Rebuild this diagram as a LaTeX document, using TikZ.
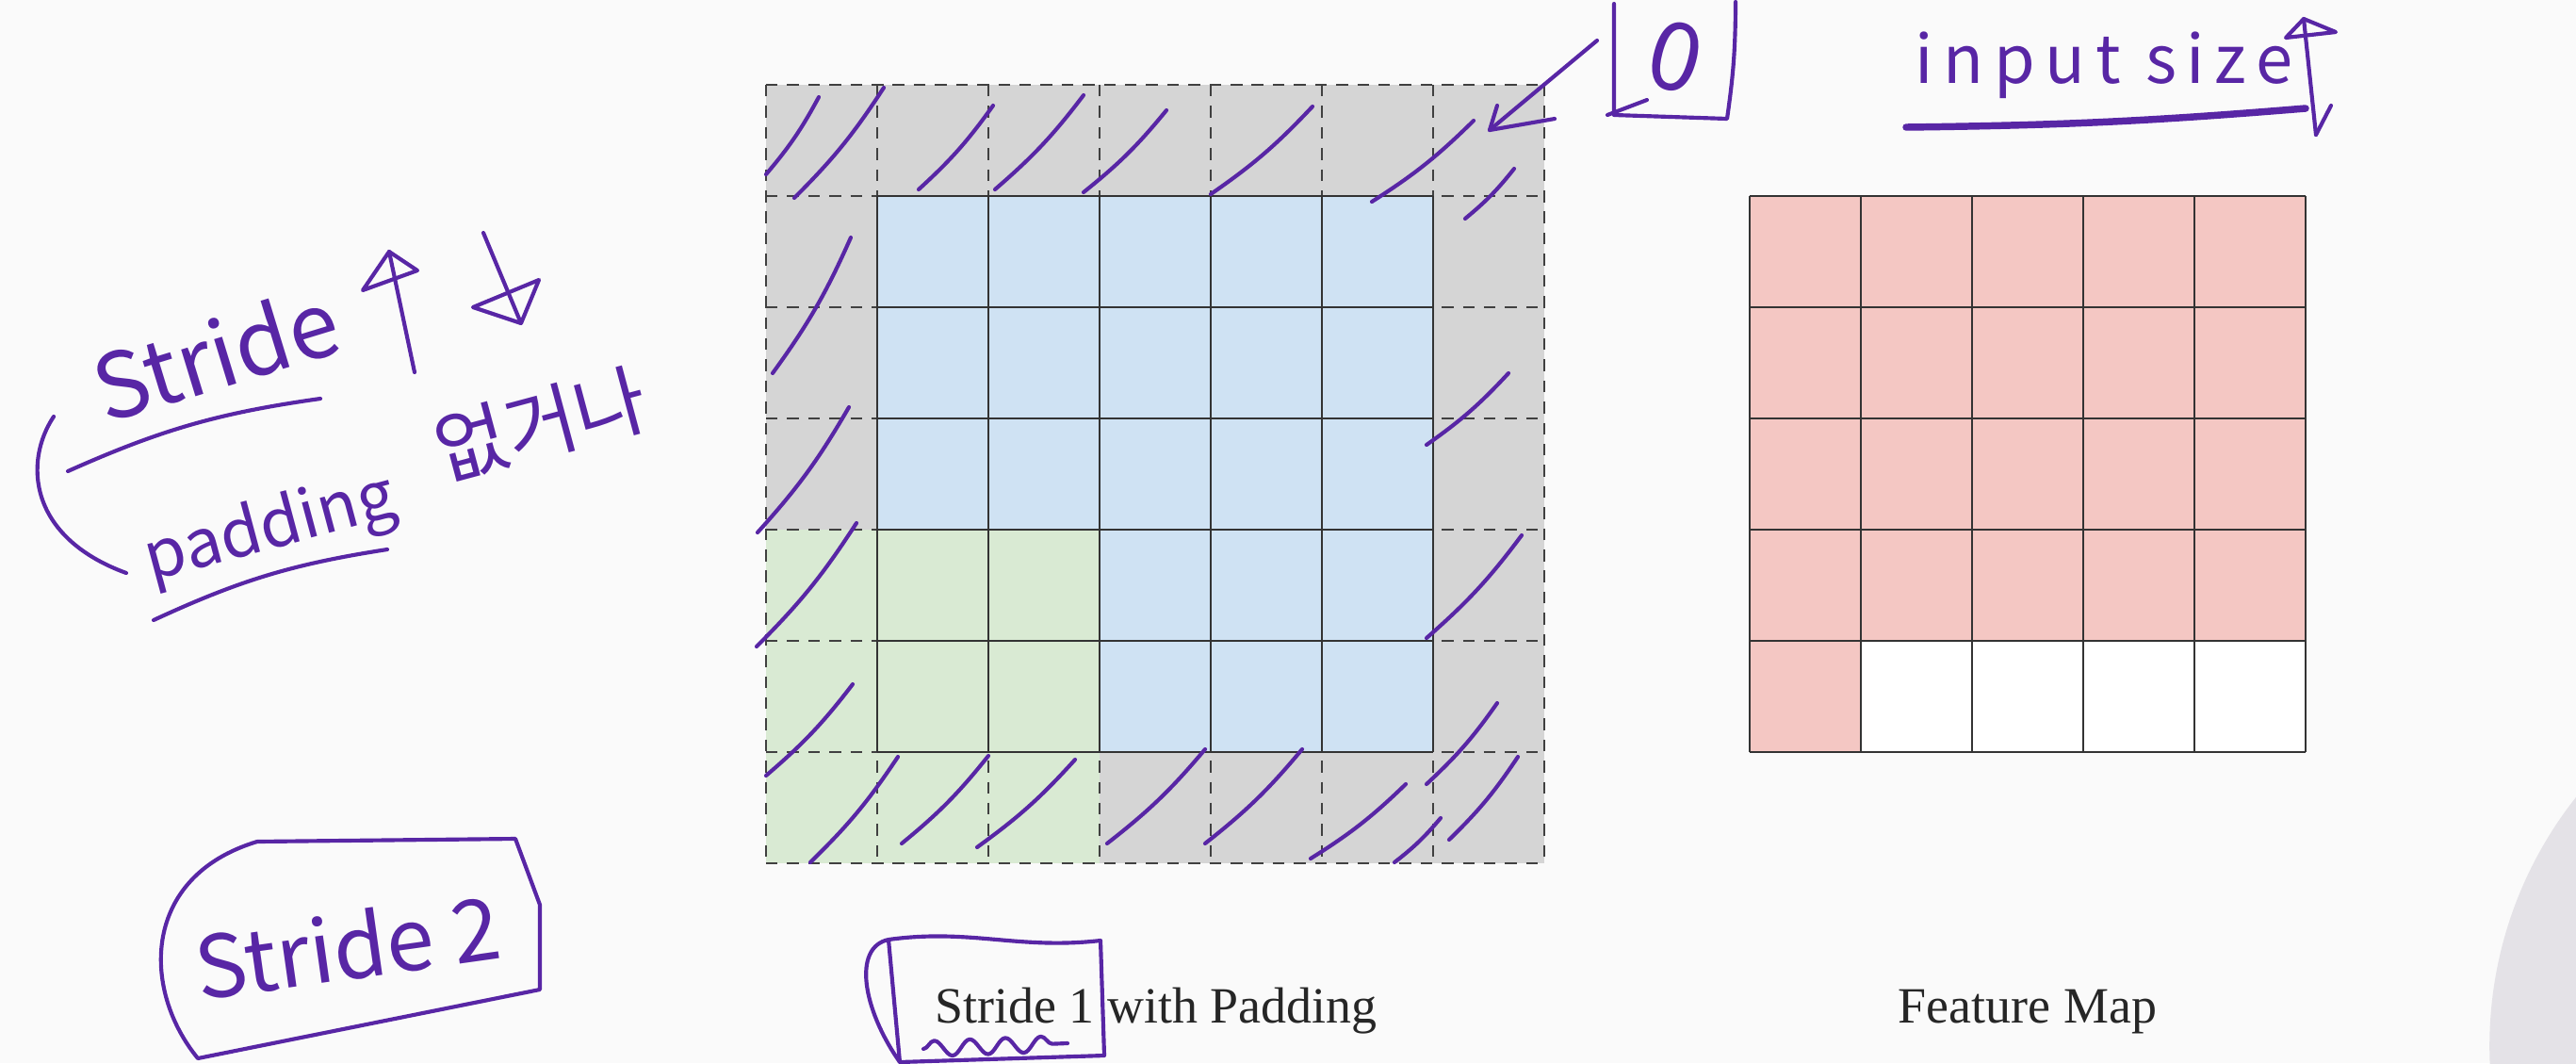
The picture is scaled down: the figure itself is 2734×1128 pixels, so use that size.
\documentclass[tikz,border=0pt]{standalone}
\usepackage{fontspec}
\setmainfont{Liberation Serif}
\newfontfamily\inkfont{Noto Sans CJK KR}
\usepackage{tikz}
\usetikzlibrary{
	arrows.meta,
	calc,
	decorations.pathmorphing
}
\definecolor{Paper}{RGB}{250,250,250}
\definecolor{PadGray}{RGB}{213,213,213}
\definecolor{CellBlue}{RGB}{207,226,243}
\definecolor{CellGreen}{RGB}{217,234,211}
\definecolor{MapPink}{RGB}{244,199,195}
\definecolor{Ink}{RGB}{88,38,165}
\definecolor{Knob}{RGB}{228,226,231}

\begin{document}
\begin{tikzpicture}[x=0.00847458cm, y=-0.00847458cm,
		gridline/.style={draw=black!80, line width=0.7pt},
		padline/.style={draw=black!75, line width=0.7pt, dash pattern=on 3pt off 2.4pt},
		ink/.style={draw=Ink, line width=1pt, line cap=round, line join=round},
		inktext/.style={text=Ink, font=\inkfont\fontsize{#1}{#1}\selectfont, inner sep=0pt},
		caption/.style={font=\fontsize{13}{15}\selectfont, text=black!85, anchor=base}]
		
		% 背景
		\fill[Paper] (0,0) rectangle (2734,1128);
		\useasboundingbox (0,0) rectangle (2734,1128);
		\begin{scope}
			\clip (0,0) rectangle (2734,1128);
			\fill[Knob] (3068,1110) circle (3.606cm);
		\end{scope}
		
		% 输入 (padding)
		\fill[PadGray] (813,90) rectangle +(826,826);
		\fill[CellBlue] (931,208) rectangle +(590,590);
		\fill[CellGreen] (813,562) rectangle +(354,354);
		\foreach \i in {0,...,7} {
			\draw[padline] ({813+118*\i},90) -- ++(0,826);
			\draw[padline] (813,{90+118*\i}) -- ++(826,0);
		}
		\foreach \i in {0,...,5} {
			\draw[gridline] ({931+118*\i},208) -- ++(0,590);
			\draw[gridline] (931,{208+118*\i}) -- ++(590,0);
		}
		
		% Feature Map
		\fill[MapPink] (1857,208) rectangle +(590,472);
		\fill[MapPink] (1857,680) rectangle +(118,118);
		\fill[white] (1975,680) rectangle +(472,118);
		\foreach \i in {0,...,5} {
			\draw[gridline] ({1857+118*\i},208) -- ++(0,590);
			\draw[gridline] (1857,{208+118*\i}) -- ++(590,0);
		}
		
		\node[caption] (capIn) at (1227,1085) {Stride 1 with Padding};
		\node[caption] (capMap) at (2152,1085) {Feature Map};
		
		% 手写: padding 斜线
		\foreach \ax/\ay/\bx/\by in {869/103/813/185, 938/93/843/210, 1054/112/975/201,
			1150/101/1056/201, 1238/117/1150/204, 1393/113/1285/206, 1564/128/1456/214,
			1607/179/1555/232, 903/252/820/396, 901/432/804/565, 909/555/803/686,
			905/726/813/823, 953/803/860/915, 1049/802/957/895, 1141/806/1037/899,
			1279/795/1175/895, 1382/795/1279/895, 1492/832/1391/911, 1529/868/1480/915,
			1589/746/1514/832, 1611/803/1538/891, 1601/396/1514/472, 1615/568/1514/677}
			\draw[ink] (\ax,\ay) to[bend left=6] (\bx,\by);
		
		% 手写: 0
		\coordinate (tip) at (1581,138);
		\draw[ink] (1695,43) -- (tip);
		\draw[ink] (1589,112) -- (tip) -- (1650,126);
		\draw[ink] (1713,4) -- (1713,122) -- (1833,126) to[bend right=4] (1842,2);
		\draw[ink] (1706,122) -- (1748,106);
		\node[inktext=24, rotate=-15] (zero) at (1778,60) {0};
		
		% 手写: input size
		\node[inktext=17, anchor=base west] (insize) at (2032,88)
			{\addfontfeature{LetterSpace=15}input size};
		\draw[ink, line width=1.8pt] (2023,135) to[bend right=2] (2447,115);
		\draw[ink] (2458,143) -- (2445,20);
		\draw[ink] (2445,20) -- (2479,34) -- (2426,40) -- cycle;
		\draw[ink] (2458,143) -- (2474,112);
		
		% 手写: Stride / padding
		\node[inktext=23, rotate=17, anchor=base west] (strideA) at (112,450) {Stride};
		\draw[ink] (72,500) to[bend left=8] (340,423);
		\draw[ink] (440,395) -- (413,267);
		\draw[ink] (413,267) -- (443,287) -- (385,308) -- cycle;
		\draw[ink] (513,247) -- (553,343);
		\draw[ink] (502,326) -- (572,297) -- (553,343) -- cycle;
		\draw[ink] (57,442) .. controls (25,490) and (30,570) .. (134,608);
		\node[inktext=17, rotate=15, anchor=base west] (paddingA) at (160,617) {padding};
		\draw[ink] (163,658) to[bend left=8] (411,583);
		\node[inktext=20, rotate=15] (koA) at (574,450) {없거나};
		
		% 手写: Stride 2
		\draw[ink] (273,893) -- (547,890) -- (573,960) -- (573,1050) -- (210,1123)
			.. controls (150,1050) and (150,930) .. (273,893);
		\node[inktext=22, rotate=8, anchor=base west] (strideB) at (212,1062) {Stride 2};
		
		% 手写: Stride 1 框
		\draw[ink] (943,997) .. controls (1030,985) and (1080,1008) .. (1168,998)
			-- (1172,1120) -- (955,1127) -- cycle;
		\draw[ink] (943,997) .. controls (905,1005) and (915,1070) .. (955,1127);
		\draw[ink, decorate, decoration={snake, amplitude=0.7mm, segment length=3.2mm}]
			(980,1113) -- (1133,1107);
	\end{tikzpicture}
\end{document}
